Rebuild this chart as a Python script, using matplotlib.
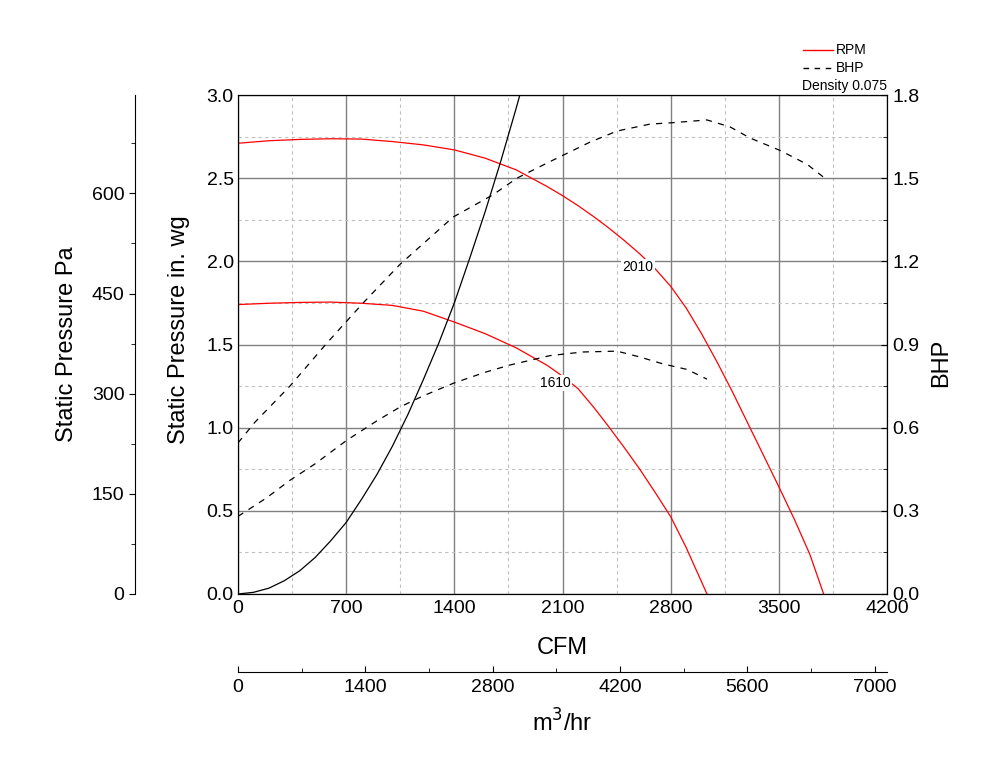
import matplotlib.pyplot as plt
from matplotlib.lines import Line2D
from matplotlib.ticker import MultipleLocator

plt.rcParams['font.family'] = ['Liberation Sans', 'DejaVu Sans']

# fan curves (CFM vs in. wg)
rpm2010_cfm = [0, 200, 400, 600, 800, 1000, 1200, 1400, 1600, 1800, 2000, 2100, 2200,
               2300, 2400, 2500, 2600, 2700, 2800, 2900, 3000, 3100, 3200, 3300, 3400,
               3500, 3600, 3700, 3790]
rpm2010_sp = [2.71, 2.725, 2.733, 2.737, 2.735, 2.72, 2.70, 2.67, 2.62, 2.55, 2.45, 2.395,
              2.335, 2.27, 2.20, 2.125, 2.045, 1.955, 1.85, 1.72, 1.565, 1.395, 1.215,
              1.025, 0.835, 0.645, 0.45, 0.24, 0.0]

rpm1610_cfm = [0, 200, 400, 600, 800, 1000, 1200, 1400, 1600, 1800, 2000, 2100, 2200,
               2300, 2400, 2500, 2600, 2700, 2800, 2900, 3035]
rpm1610_sp = [1.74, 1.748, 1.753, 1.755, 1.748, 1.735, 1.70, 1.635, 1.565, 1.48, 1.375,
              1.31, 1.235, 1.125, 1.005, 0.88, 0.75, 0.61, 0.465, 0.28, 0.0]

# system curve
sys_cfm = [0, 100, 200, 300, 400, 500, 600, 700, 800, 900, 1000, 1100, 1200, 1300,
           1400, 1500, 1600, 1700, 1800, 1830]
sys_sp = [0.0, 0.01, 0.035, 0.08, 0.14, 0.22, 0.32, 0.43, 0.57, 0.72, 0.89, 1.08, 1.29,
          1.51, 1.75, 2.02, 2.30, 2.60, 2.92, 3.02]

# brake horsepower
bhp2010_cfm = [0, 110, 336, 575, 810, 1050, 1393, 1650, 1805, 2020, 2278, 2453, 2666,
               2810, 3035, 3184, 3313, 3508, 3683, 3786]
bhp2010 = [0.545, 0.62, 0.75, 0.905, 1.05, 1.19, 1.36, 1.44, 1.50, 1.56, 1.63, 1.67, 1.695,
           1.70, 1.71, 1.685, 1.645, 1.60, 1.55, 1.505]

bhp1610_cfm = [0, 180, 336, 500, 705, 900, 1050, 1200, 1393, 1600, 1760, 2020, 2233,
               2453, 2600, 2750, 2906, 3035]
bhp1610 = [0.28, 0.345, 0.41, 0.47, 0.555, 0.625, 0.675, 0.715, 0.76, 0.80, 0.826, 0.86,
           0.873, 0.876, 0.855, 0.83, 0.81, 0.775]

fig = plt.figure(figsize=(10, 7.7), dpi=100)
ax = fig.add_axes([0.238, 1 - 594 / 770, 0.649, 499 / 770])

ax.set_xlim(0, 4200)
ax.set_ylim(0, 3.0)
ax.xaxis.set_major_locator(MultipleLocator(700))
ax.xaxis.set_minor_locator(MultipleLocator(350))
ax.yaxis.set_major_locator(MultipleLocator(0.5))
ax.yaxis.set_minor_locator(MultipleLocator(0.25))
ax.yaxis.set_major_formatter(plt.FormatStrFormatter('%.1f'))
ax.grid(which='major', color='#808080', lw=1)
ax.grid(which='minor', color='#c0c0c0', lw=0.8, ls=(0, (3, 3)))
ax.tick_params(which='both', direction='in', labelsize=14, length=0)
ax.tick_params(axis='x', pad=4)
ax.tick_params(axis='y', pad=3)

ax.plot(rpm2010_cfm, rpm2010_sp, color='red', lw=0.9)
ax.plot(rpm1610_cfm, rpm1610_sp, color='red', lw=0.9)
ax.plot(sys_cfm, sys_sp, color='black', lw=0.9)

ax.text(2589, 1.966, '2010', fontsize=10, ha='center', va='center',
        bbox=dict(fc='white', ec='none', pad=1))
ax.text(2051, 1.269, '1610', fontsize=10, ha='center', va='center',
        bbox=dict(fc='white', ec='none', pad=1))

ax.set_xlabel('CFM', fontsize=17)
ax.xaxis.set_label_coords(0.5, (594 - 637) / 499)
ax.set_ylabel('Static Pressure in. wg', fontsize=17)
ax.yaxis.set_label_coords((190 - 238) / 649, 0.53)

# BHP axis on the right
ax_b = ax.twinx()
ax_b.set_ylim(0, 1.8)
ax_b.yaxis.set_major_locator(MultipleLocator(0.3))
ax_b.yaxis.set_minor_locator(MultipleLocator(0.15))
ax_b.yaxis.set_major_formatter(plt.FormatStrFormatter('%.1f'))
ax_b.tick_params(which='both', direction='in', labelsize=14, pad=4)
ax_b.tick_params(which='major', length=4)
ax_b.tick_params(which='minor', length=3)
ax_b.plot(bhp2010_cfm, bhp2010, color='black', lw=0.9, ls=(0, (5, 5)))
ax_b.plot(bhp1610_cfm, bhp1610, color='black', lw=0.9, ls=(0, (5, 5)))
ax_b.set_ylabel('BHP', fontsize=17)
ax_b.yaxis.set_label_coords((930 - 238) / 649, 0.464)

# Pa axis on far left
ax_pa = ax.twinx()
ax_pa.set_ylim(0, 3.0 * 249.089)
for s in ['right', 'top', 'bottom']:
    ax_pa.spines[s].set_visible(False)
ax_pa.spines['left'].set_visible(True)
ax_pa.spines['left'].set_position(('axes', (135 - 238) / 649))
ax_pa.yaxis.set_ticks_position('left')
ax_pa.yaxis.set_label_position('left')
ax_pa.yaxis.set_major_locator(MultipleLocator(150))
ax_pa.yaxis.set_minor_locator(MultipleLocator(75))
ax_pa.tick_params(which='both', direction='out', labelsize=14)
ax_pa.tick_params(which='major', length=4)
ax_pa.tick_params(which='minor', length=3)
ax_pa.set_ylabel('Static Pressure Pa', fontsize=17)
ax_pa.yaxis.set_label_coords((78 - 238) / 649, 0.5)

# m3/hr axis below
ax_m = ax.twiny()
ax_m.set_xlim(0, 4200 * 1.699)
for s in ['right', 'top', 'left']:
    ax_m.spines[s].set_visible(False)
ax_m.spines['bottom'].set_visible(True)
ax_m.spines['bottom'].set_position(('axes', (594 - 672) / 499))
ax_m.xaxis.set_ticks_position('bottom')
ax_m.xaxis.set_label_position('bottom')
ax_m.xaxis.set_major_locator(MultipleLocator(1400))
ax_m.xaxis.set_minor_locator(MultipleLocator(700))
ax_m.tick_params(which='both', direction='in', labelsize=14, pad=5)
ax_m.tick_params(which='major', length=4)
ax_m.tick_params(which='minor', length=3)
ax_m.set_xlabel('m$^3$/hr', fontsize=17)
ax_m.xaxis.set_label_coords(0.5, (594 - 709) / 499)

# legend box top right
fig.add_artist(Line2D([803 / 1000, 833 / 1000], [1 - 50 / 770] * 2, color='red', lw=1))
fig.add_artist(Line2D([803 / 1000, 833 / 1000], [1 - 68 / 770] * 2, color='black', lw=1,
                      ls=(0, (4, 4))))
fig.text(836 / 1000, 1 - 50 / 770, 'RPM', fontsize=10, va='center')
fig.text(836 / 1000, 1 - 68 / 770, 'BHP', fontsize=10, va='center')
fig.text(802 / 1000, 1 - 86 / 770, 'Density 0.075', fontsize=10, va='center')

plt.savefig('out.png', dpi=100)
